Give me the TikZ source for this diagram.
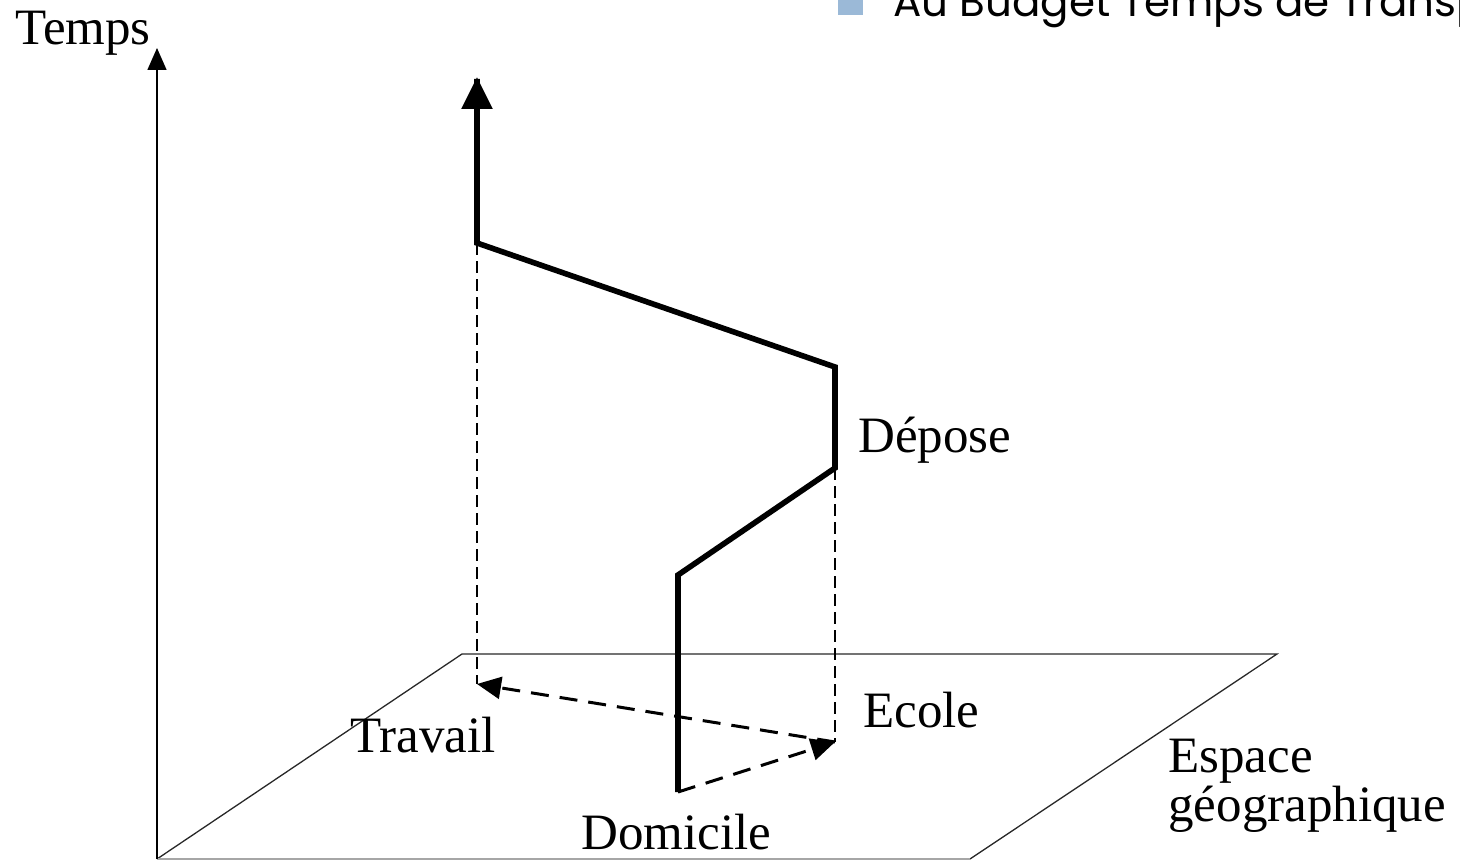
\documentclass[tikz,border=0pt]{standalone}
\usepackage{fontspec}
\setmainfont{Liberation Serif}
\newfontfamily\slidefont{Poppins}
\usetikzlibrary{arrows.meta}
\definecolor{bulletblue}{RGB}{155,185,215}
\definecolor{planegray}{RGB}{40,40,40}
\tikzset{
  lbl/.style={inner sep=0pt, anchor=base west, font=\fontsize{25.5}{27}\selectfont},
  axisline/.style={line width=0.75pt, -{Triangle[length=11pt,width=9.5pt]}},
  planeedge/.style={line width=0.65pt, draw=planegray},
  trajet/.style={line width=2.8pt, line join=miter},
  trajettip/.style={-{Triangle[length=16pt,width=15pt]}},
  projline/.style={line width=0.75pt, dash pattern=on 6pt off 3pt},
  moveline/.style={line width=1.5pt, dash pattern=on 9pt off 5.5pt,
    -{Triangle[length=12pt,width=11pt]}},
}
\begin{document}
\begin{tikzpicture}[x=0.5pt, y=-0.5pt]
\useasboundingbox (0,0) rectangle (1460,861);

% slide heading, running past the page edge
\fill[bulletblue] (838,-2) rectangle (863,15);
\node[inner sep=0pt, anchor=base west, font=\slidefont\fontsize{21}{24}\selectfont] (titre) at (893,17) {Au Budget Temps de Transport};

% geographic plane
\coordinate (bl) at (157,859);
\coordinate (tl) at (462,654);
\coordinate (trc) at (1277,654);
\coordinate (br) at (970,859);
\draw[planeedge] (bl) -- (tl) -- (trc) -- (br);
\draw[planeedge, draw=gray!70] (br) -- (bl);

% time axis
\coordinate (axtop) at (157,48);
\draw[axisline] (bl) -- (axtop);

% places on the plane
\coordinate (dom) at (678,792);
\coordinate (ec) at (835,742);
\coordinate (tr) at (477,684);

% space-time path
\coordinate (p1) at (678,575);
\coordinate (dep) at (835,468);
\coordinate (p2) at (835,367);
\coordinate (p3) at (477,243);
\coordinate (fin) at (477,77);
\draw[trajet] (dom) -- (p1) -- (dep) -- (p2) -- (p3) -- ([yshift=-1pt]p3|-fin);
\draw[trajet, trajettip] ([yshift=-10pt]p3|-fin) -- (fin);

% projections onto the plane
\draw[projline] (p3) -- (tr);
\draw[projline] (dep) -- (ec);

% movements on the plane
\draw[moveline] (dom) -- (ec);
\draw[moveline] (ec) -- (tr);

% labels
\node[lbl] (temps) at (15,45) {Temps};
\node[lbl] (depose) at (858,452) {Dépose};
\node[lbl] (ecole) at (863,727) {Ecole};
\node[lbl] (travail) at (350,752) {Travail};
\node[lbl] (domicile) at (581,849) {Domicile};
\node[lbl] (espace) at (1168,772) {Espace};
\node[lbl] (geo) at (1168,821) {géographique};
\end{tikzpicture}
\end{document}
